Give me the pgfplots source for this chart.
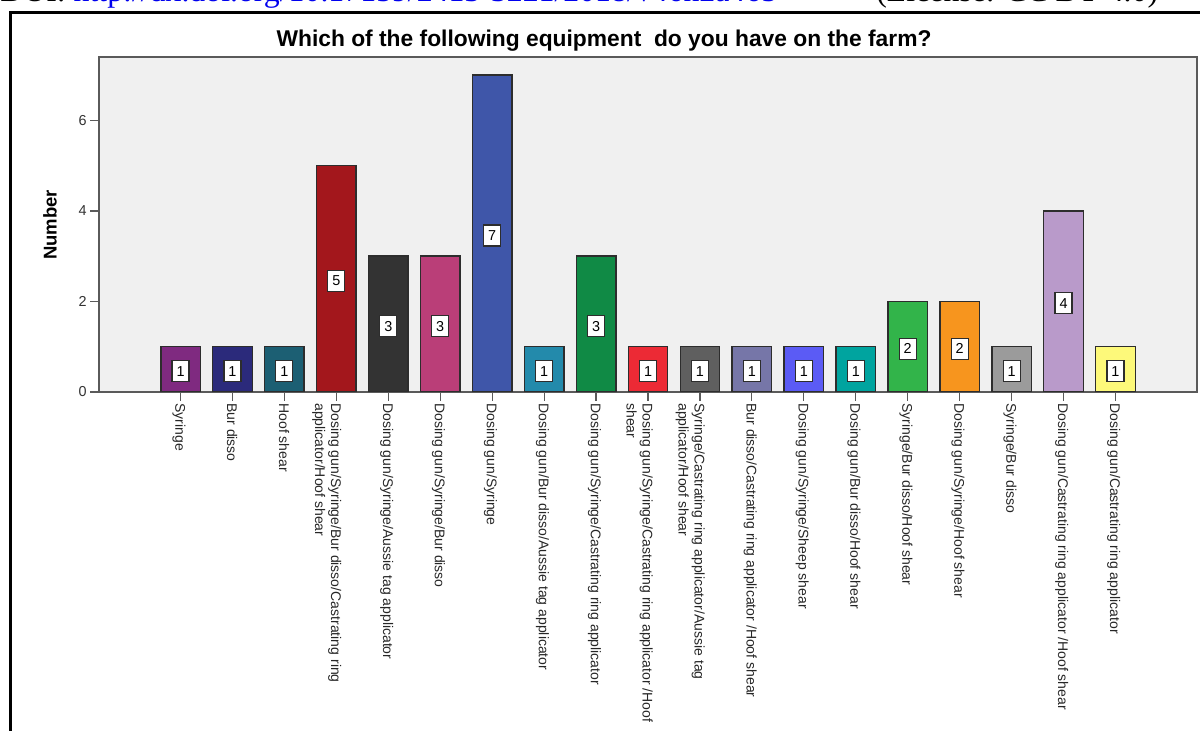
\documentclass[border=0pt]{standalone}
\usepackage{fontspec}
\setmainfont{Liberation Sans}
\newfontfamily\hdrfont{Liberation Serif}
\usepackage{pgfplots}
\pgfplotsset{compat=1.18}
\usepackage{pgfplotstable}

\definecolor{plotbg}{HTML}{F0F0F0}
\definecolor{axisgray}{HTML}{5A5A5A}
\definecolor{bardraw}{HTML}{2D2D2D}
\definecolor{linkblue}{HTML}{0000EE}
\definecolor{c1}{HTML}{7F2A80}
\definecolor{c2}{HTML}{2B2A7B}
\definecolor{c3}{HTML}{1C5F73}
\definecolor{c4}{HTML}{A3171C}
\definecolor{c5}{HTML}{333333}
\definecolor{c6}{HTML}{BA3E78}
\definecolor{c7}{HTML}{3F56A9}
\definecolor{c8}{HTML}{238AAB}
\definecolor{c9}{HTML}{108A45}
\definecolor{c10}{HTML}{EC2A35}
\definecolor{c11}{HTML}{5F5F5F}
\definecolor{c12}{HTML}{7676A8}
\definecolor{c13}{HTML}{5B5BF5}
\definecolor{c14}{HTML}{00A49F}
\definecolor{c15}{HTML}{32B44A}
\definecolor{c16}{HTML}{F7951E}
\definecolor{c17}{HTML}{9B9B9B}
\definecolor{c18}{HTML}{B99ACA}
\definecolor{c19}{HTML}{FDF97A}

% answers, in the order they appear on the x axis
\pgfplotstableread{
idx n
0  1
1  1
2  1
3  5
4  3
5  3
6  7
7  1
8  3
9  1
10 1
11 1
12 1
13 1
14 2
15 2
16 1
17 4
18 1
}\equipdata

\newcommand{\two}[2]{\begin{tabular}[t]{@{}l@{}}#1\\#2\end{tabular}}

\begin{document}
\begin{tikzpicture}
\path[use as bounding box] (0pt,0pt) rectangle (600pt,365.5pt);

% cut-off page header above the figure
\node[anchor=base west, inner sep=0pt, font=\hdrfont\fontsize{15.9}{18}\selectfont]
  at (0pt,364.6pt) {DOI: \textcolor{linkblue}{\underline{http://dx.doi.org/10.17159/2413-3221/2018/v46n2a465}}};
\node[anchor=base west, inner sep=0pt, font=\hdrfont\fontsize{15.9}{18}\selectfont]
  at (438pt,364.6pt) {(License: CC BY 4.0)};

% frame of the figure
\draw[line width=1.5pt] (5pt,0pt) -- (5pt,359pt) -- (600pt,359pt);

\node[anchor=base, font=\bfseries\fontsize{11.4}{13}\selectfont] at (302pt,342.2pt)
  {Which of the following equipment\ \ do you have on the farm?};
\node[rotate=90, font=\bfseries\fontsize{9.25}{11}\selectfont] at (25pt,253pt) {Number};

\begin{axis}[
  at={(49.5pt,169.5pt)}, anchor=south west,
  scale only axis, width=549pt, height=167.5pt,
  xmin=-1.57, xmax=19.57, ymin=0, ymax=7.4,
  axis background/.style={fill=plotbg},
  axis line style={draw=axisgray, line width=0.9pt},
  tick align=outside, tick pos=left,
  major tick length=4.5pt,
  tick style={draw=axisgray, line width=0.6pt},
  /pgf/number format/assume math mode=true,
  ytick={0,2,4,6},
  yticklabel style={font=\fontsize{7.2}{8}\selectfont, text=black!80, inner sep=1.5pt},
  xtick={0,...,18},
  xticklabels={
    Syringe,
    Bur disso,
    Hoof shear,
    {\two{Dosing gun/Syringe/Bur disso/Castrating ring}{applicator/Hoof shear}},
    Dosing gun/Syringe/Aussie tag applicator,
    Dosing gun/Syringe/Bur disso,
    Dosing gun/Syringe,
    Dosing gun/Bur disso/Aussie tag applicator,
    Dosing gun/Syringe/Castrating ring applicator,
    {\two{Dosing gun/Syringe/Castrating ring applicator /Hoof}{shear}},
    {\two{Syringe/Castrating ring applicator/Aussie tag}{applicator/Hoof shear}},
    Bur disso/Castrating ring applicator /Hoof shear,
    Dosing gun/Syringe/Sheep shear,
    Dosing gun/Bur disso/Hoof shear,
    Syringe/Bur disso/Hoof shear,
    Dosing gun/Syringe/Hoof shear,
    Syringe/Bur disso,
    Dosing gun/Castrating ring applicator /Hoof shear,
    Dosing gun/Castrating ring applicator},
  xticklabel style={font=\fontsize{7}{8}\selectfont, text=black!85, rotate=-90, anchor=mid west, inner sep=1pt},
  cycle list={
    {fill=c1},{fill=c2},{fill=c3},{fill=c4},{fill=c5},{fill=c6},{fill=c7},
    {fill=c8},{fill=c9},{fill=c10},{fill=c11},{fill=c12},{fill=c13},{fill=c14},
    {fill=c15},{fill=c16},{fill=c17},{fill=c18},{fill=c19}},
]
\pgfplotsinvokeforeach{0,...,18}{
  \addplot+[ybar, bar width=0.76, bar shift=0pt, draw=bardraw, line width=0.7pt, mark=none,
    restrict expr to domain={\coordindex}{#1:#1}]
    table[x=idx, y=n] {\equipdata};
}
% count boxes half way up each bar
\addplot[draw=none, mark=none, nodes near coords, point meta=explicit symbolic,
  every node near coord/.style={anchor=center, yshift=-1pt, draw=bardraw, line width=0.55pt,
    fill=white, inner sep=0pt, minimum width=8.5pt, minimum height=10.5pt,
    font=\fontsize{7.2}{8}\selectfont}]
  table[x=idx, y expr=\thisrow{n}/2, meta=n] {\equipdata};
\end{axis}
\end{tikzpicture}
\end{document}
